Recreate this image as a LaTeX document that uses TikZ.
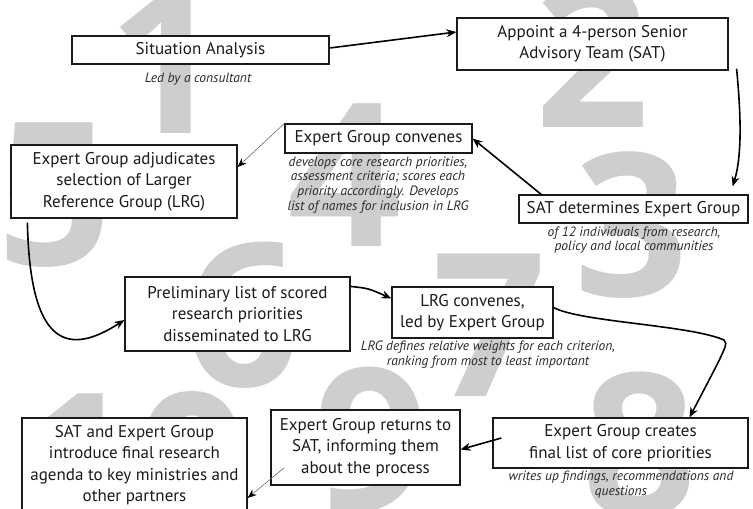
\documentclass[tikz,border=0pt]{standalone}
\usepackage{fontspec}
\setmainfont{PT Sans}
\newfontfamily\digitfont{Open Sans}
\usetikzlibrary{arrows.meta,calc}
\definecolor{digitgray}{RGB}{206,206,206}
\definecolor{inkcol}{RGB}{30,25,25}
\definecolor{notecol}{RGB}{45,40,40}
\definecolor{thincol}{RGB}{110,110,110}
\tikzset{
 stepbox/.style={draw=inkcol, line width=1.2pt, fill=white, align=center, inner sep=0pt, text=inkcol, font=\fontsize{17}{21.5}\selectfont},
 notetext/.style={align=center, inner sep=0pt, text=notecol, font=\fontsize{13.5}{14.8}\selectfont\itshape},
 bigdigit/.style={inner sep=0pt, text=digitgray, font=\digitfont\bfseries\fontsize{200}{200}\selectfont},
 mainarrow/.style={draw=black, line width=1.6pt, -{Stealth[length=10pt,width=8pt]}},
 thinarrow/.style={draw=thincol, line width=0.6pt, -{Stealth[length=9pt,width=7pt,color=black]}},
}
\begin{document}
\begin{tikzpicture}[x=1pt,y=1pt]
\useasboundingbox (0,0) rectangle (753,-509);
\fill[white] (0,0) rectangle (753,-509);
\clip (0,0) rectangle (753,-509);
% background digits
\node[bigdigit] (d1) at (166,-62) {1};
\node[bigdigit] (d2) at (593,-55) {2};
\node[bigdigit] (d3) at (632,-225) {3};
\node[bigdigit] (d4) at (345,-175) {4};
\node[bigdigit] (d5) at (55,-195) {5};
\node[bigdigit] (d6) at (243,-315) {6};
\node[bigdigit] (d7) at (490,-325) {7};
\node[bigdigit] (d8) at (640,-445) {8};
\node[bigdigit] (d9) at (372,-440) {9};
\node[bigdigit] (d10) at (135,-465) {10};
% boxes
\node[stepbox, minimum width=257pt, minimum height=28pt] (sit) at (200.5,-50) {Situation Analysis};
\node[stepbox, minimum width=271pt, minimum height=52pt] (app) at (592.5,-44) {Appoint a 4-person Senior\\Advisory Team (SAT)};
\node[stepbox, minimum width=229pt, minimum height=28pt] (satd) at (633.5,-209) {SAT determines Expert Group};
\node[stepbox, minimum width=187pt, minimum height=29pt] (egc) at (378.5,-138.5) {Expert Group convenes};
\node[stepbox, minimum width=226pt, minimum height=73pt] (adj) at (124,-181.5) {Expert Group adjudicates\\selection of Larger\\Reference Group (LRG)};
\node[stepbox, minimum width=225pt, minimum height=74pt] (pre) at (237.5,-314) {Preliminary list of scored\\research priorities\\disseminated to LRG};
\node[stepbox, minimum width=161pt, minimum height=51pt] (lrg) at (472.5,-312.5) {LRG convenes,\\led by Expert Group};
\node[stepbox, minimum width=255pt, minimum height=50pt] (cre) at (620.5,-443) {Expert Group creates\\final list of core priorities};
\node[stepbox, minimum width=189pt, minimum height=75pt] (ret) at (365.5,-447.5) {Expert Group returns to\\SAT, informing them\\about the process};
\node[stepbox, minimum width=225pt, minimum height=94pt] (fin) at (134.5,-465) {SAT and Expert Group\\introduce final research\\agenda to key ministries and\\other partners};
% notes
\node[notetext] (nsit) at (198,-79) {Led by a consultant};
\node[notetext] (nsatd) at (634,-240) {of 12 individuals from research,\\policy and local communities};
\node[notetext] (negc) at (378,-185) {develops core research priorities,\\assessment criteria; scores each\\priority accordingly. Develops\\list of names for inclusion in LRG};
\node[notetext] (nlrg) at (488,-354.5) {LRG defines relative weights for each criterion,\\ranking from most to least important};
\node[notetext] (ncre) at (621,-484.5) {writes up findings, recommendations and\\questions};
% connectors
\draw[mainarrow] ($(sit.east)+(0,2)$) -- ($(app.west)+(0,12)$);
\draw[mainarrow] ($(app.south east)+(8,2)$) .. controls ($(app.south east)+(12,-40)$) and ($(satd.north east)+(-6,40)$) .. ($(satd.north east)+(-16,8)$);
\draw[mainarrow] ($(satd.north west)+(24,-1)$) -- (egc.east);
\draw[thinarrow] (egc.north west) -- ($(adj.east)+(0,14.5)$);
\draw[mainarrow] ($(adj.south west)+(17,-4)$) .. controls (30,-350) and (70,-355) .. ($(pre.west)+(0,-6)$);
\draw[mainarrow] ($(pre.north east)+(0,-10)$) .. controls ($(pre.north east)+(18,-12)$) .. ($(lrg.west)+(0,14)$);
\draw[mainarrow] ($(lrg.east)+(0,5)$) .. controls (580,-322) and (690,-325) .. (724,-340) .. controls (728,-344) .. ($(cre.north)+(69,0)$);
\draw[mainarrow] ($(cre.west)+(9,5)$) -- ($(ret.east)+(0,-2)$);
\draw[thinarrow] ($(ret.south west)+(14,18)$) -- ($(fin.east)+(0,-33)$);
\end{tikzpicture}
\end{document}
